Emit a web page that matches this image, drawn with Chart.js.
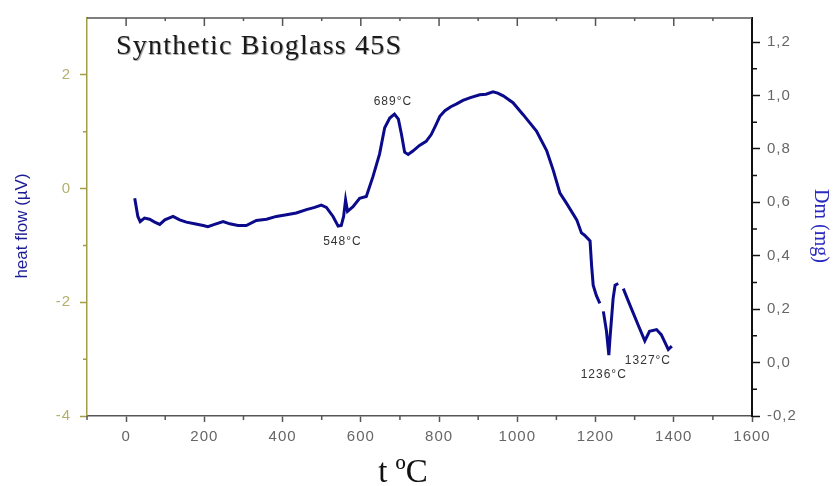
<!DOCTYPE html>
<html>
<head>
<meta charset="utf-8">
<script src="https://cdn.jsdelivr.net/npm/chart.js@4.4.0/dist/chart.umd.min.js"></script>
<style>
  html, body { margin: 0; padding: 0; background: #fff; }
  #wrap { width: 837px; height: 486px; }
</style>
</head>
<body>
<div id="wrap"><canvas id="dtaChart" width="837" height="486"></canvas></div>
<script>
// values (t in °C, heat flow in µV)
const temperature = [22, 30, 36, 47, 60, 73, 86, 99, 120, 137, 154, 175, 197, 209, 226, 248, 265, 286, 307, 333,
  359, 384, 410, 435, 461, 482, 499, 512, 529, 542, 550, 556, 561, 566, 580, 597, 614, 631, 648, 661,
  674, 686, 696, 704, 712, 721, 733, 750, 767, 780, 792, 802, 815, 830, 845, 861, 880, 904, 920, 938, 950, 964,
  989, 1015, 1049, 1075, 1092, 1109, 1126, 1152, 1164, 1172, 1186, 1190, 1194, 1202, 1211, 1215, 1220, 1228, 1234, 1237,
  1241, 1245, 1250, 1258, 1264, 1271, 1288, 1309, 1326, 1338, 1356, 1368, 1386, 1395];
const heatFlow = [-0.17, -0.49, -0.58, -0.52, -0.54, -0.59, -0.63, -0.55, -0.49, -0.55, -0.59, -0.62, -0.65, -0.67, -0.63, -0.58, -0.62, -0.65, -0.65, -0.56,
  -0.54, -0.49, -0.46, -0.43, -0.37, -0.33, -0.29, -0.33, -0.49, -0.66, -0.65, -0.49, -0.2, -0.40, -0.32, -0.17, -0.14, 0.21, 0.61, 1.07,
  1.24, 1.31, 1.22, 0.95, 0.64, 0.60, 0.66, 0.76, 0.83, 0.95, 1.12, 1.27, 1.37, 1.44, 1.49, 1.55, 1.60, 1.65, 1.66, 1.70, 1.68, 1.63,
  1.51, 1.30, 1.01, 0.67, 0.32, -0.08, -0.26, -0.55, -0.78, -0.82, -0.92, -1.36, -1.70, -1.88, -2.02, null, -2.16, -2.51, -2.93, -2.63,
  -2.28, -1.93, -1.70, -1.67, null, -1.76, -2.05, -2.40, -2.68, -2.51, -2.48, -2.57, -2.83, -2.77];

const xTicks = [0, 200, 400, 600, 800, 1000, 1200, 1400, 1600];
const heatTicks = [-4, -2, 0, 2];
const massTicks = [-0.2, 0, 0.2, 0.4, 0.6, 0.8, 1.0, 1.2];

const peakLabels = ['689°C', '548°C', '1236°C', '1327°C'];
const peakT = [682, 553, 1221, 1334];
const peakY = [1.52, -0.93, -3.28, -3.02];

const olive = '#a39d45';
const sans = '"Liberation Sans", Arial, sans-serif';
const serif = '"Liberation Serif", "Times New Roman", serif';

// wider tick lettering like the scanned figure
const spacing = {
  id: 'spacing',
  beforeDraw(chart) { chart.ctx.letterSpacing = '1px'; },
  afterDraw(chart) { chart.ctx.letterSpacing = '0px'; }
};

// frame extras: top border, minor ticks, titles and peak labels
const extras = {
  id: 'extras',
  afterDraw(chart) {
    const { ctx, chartArea: a, scales } = chart;
    const x = scales.x, y = scales.y, y2 = scales.y2;
    ctx.save();
    ctx.letterSpacing = '0px';

    // top border with inward ticks
    ctx.strokeStyle = '#555';
    ctx.lineWidth = 1.5;
    ctx.beginPath();
    ctx.moveTo(a.left, a.top);
    ctx.lineTo(a.right, a.top);
    for (let v = 0; v < 1600; v += 100) {
      const px = x.getPixelForValue(v);
      ctx.moveTo(px, a.top);
      ctx.lineTo(px, a.top + (v % 200 === 0 ? 8 : 3));
    }
    // bottom minor ticks
    for (let v = -100; v < 1600; v += 200) {
      const px = x.getPixelForValue(v);
      ctx.moveTo(px, a.bottom);
      ctx.lineTo(px, a.bottom + 4);
    }
    ctx.stroke();

    // left minor ticks
    ctx.strokeStyle = olive;
    ctx.beginPath();
    [-3, -1, 1].forEach(v => {
      const py = y.getPixelForValue(v);
      ctx.moveTo(a.left, py);
      ctx.lineTo(a.left - 4, py);
    });
    ctx.stroke();

    // right minor ticks
    ctx.strokeStyle = '#111';
    ctx.lineWidth = 1.5;
    ctx.beginPath();
    for (let i = -1; i <= 11; i += 2) {
      const py = y2.getPixelForValue(i / 10);
      ctx.moveTo(a.right, py);
      ctx.lineTo(a.right + 5, py);
    }
    ctx.stroke();

    // titles
    ctx.fillStyle = '#1a1a1a';
    ctx.font = '28px ' + serif;
    ctx.textAlign = 'left';
    ctx.textBaseline = 'alphabetic';
    ctx.shadowColor = 'rgba(120,120,120,0.6)';
    ctx.shadowOffsetX = 1;
    ctx.shadowOffsetY = 1;
    ctx.letterSpacing = '1.2px';
    ctx.fillText('Synthetic Bioglass 45S', 116, 54);
    ctx.letterSpacing = '0px';
    ctx.shadowColor = 'transparent';

    ctx.font = '33px ' + serif;
    ctx.textAlign = 'center';
    ctx.fillStyle = '#111';
    ctx.fillText('t ºC', 403, 482);

    ctx.save();
    ctx.translate(22, 226);
    ctx.rotate(-Math.PI / 2);
    ctx.font = '17px ' + sans;
    ctx.fillStyle = '#1c1c96';
    ctx.textBaseline = 'middle';
    ctx.fillText('heat flow (µV)', 0, 0);
    ctx.restore();

    ctx.save();
    ctx.translate(820, 226);
    ctx.rotate(Math.PI / 2);
    ctx.font = '20px ' + serif;
    ctx.fillStyle = '#2a2ac0';
    ctx.textBaseline = 'middle';
    ctx.fillText('Dm (mg)', 0, 0);
    ctx.restore();

    // peak labels
    ctx.font = '12px ' + sans;
    ctx.letterSpacing = '1px';
    ctx.fillStyle = '#333';
    ctx.textBaseline = 'middle';
    peakLabels.forEach((txt, i) => {
      ctx.fillText(txt, x.getPixelForValue(peakT[i]), y.getPixelForValue(peakY[i]));
    });

    ctx.restore();
  }
};

const tickFont = { family: sans, size: 15 };

new Chart(document.getElementById('dtaChart'), {
  type: 'line',
  data: {
    datasets: [{
      data: temperature.map((t, i) => ({ x: t, y: heatFlow[i] })),
      borderColor: '#0a0a8a',
      borderWidth: 3,
      pointRadius: 0,
      tension: 0,
      spanGaps: false,
      yAxisID: 'y'
    }]
  },
  options: {
    responsive: false,
    devicePixelRatio: 1,
    animation: false,
    layout: { padding: { top: 12, left: 0, right: 0, bottom: 0 } },
    plugins: { legend: { display: false }, tooltip: { enabled: false } },
    scales: {
      x: {
        type: 'linear',
        position: 'bottom',
        min: -100,
        max: 1600,
        afterBuildTicks: s => { s.ticks = xTicks.map(v => ({ value: v })); },
        afterFit: s => { s.height = 70; },
        grid: { drawOnChartArea: false, tickLength: 6, color: '#555', tickWidth: 1.5 },
        border: { color: '#555', width: 1.5 },
        ticks: { color: '#666', font: tickFont, padding: 6, maxRotation: 0, callback: v => String(v) }
      },
      y: {
        type: 'linear',
        position: 'left',
        min: -4,
        max: 3,
        afterBuildTicks: s => { s.ticks = heatTicks.map(v => ({ value: v })); },
        afterFit: s => { s.width = 87; },
        grid: { drawOnChartArea: false, tickLength: 7, color: olive, tickWidth: 1.5 },
        border: { color: olive, width: 1.5 },
        ticks: { color: '#b5b06e', font: tickFont, padding: 9, callback: v => String(v) }
      },
      y2: {
        type: 'linear',
        position: 'right',
        display: true,
        min: -0.2,
        max: 1.29,
        afterBuildTicks: s => { s.ticks = massTicks.map(v => ({ value: v })); },
        afterFit: s => { s.width = 85; },
        grid: { drawOnChartArea: false, tickLength: 8, color: '#111', tickWidth: 1.5 },
        border: { color: '#111', width: 2 },
        ticks: { color: '#666', font: tickFont, padding: 7, callback: v => v.toFixed(1).replace('.', ',') }
      }
    }
  },
  plugins: [spacing, extras]
});
</script>
</body>
</html>
